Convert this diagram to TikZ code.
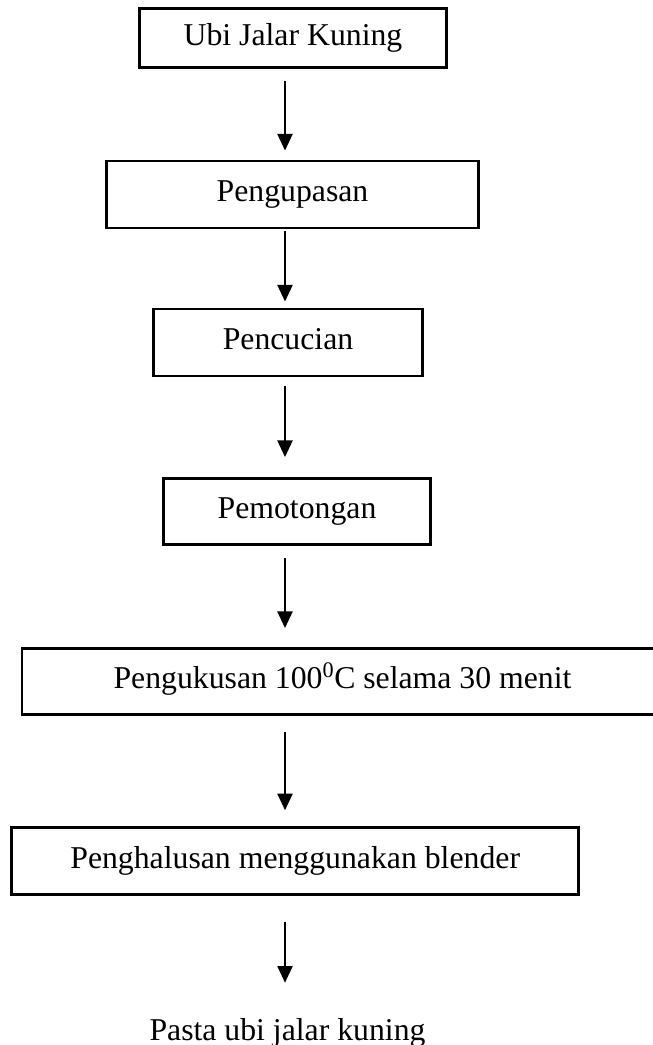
\documentclass[tikz,border=0pt]{standalone}
\usepackage{fontspec}
\setmainfont{Liberation Serif}
\usetikzlibrary{positioning,arrows.meta,calc}
\tikzset{proc/.style n args={2}{
    draw, line width=2.1pt, inner sep=0pt,
    text height=18.4pt, text depth=6pt,
    minimum width=#1*0.03cm, minimum height=#2*0.03cm
    }
}
\tikzset{flow/.style n args={2}{
    ->, line width=1.9pt,
    shorten <=#1*0.03cm, shorten >=#2*0.03cm
    }
}

\begin{document}
\begin{tikzpicture}[x=0.03cm,y=-0.03cm,>={Triangle[length=0.5cm,width=0.45cm]},font=\fontsize{27.1}{32}\selectfont]
	\clip (0,0) rectangle (653,1045);
	\coordinate (ax) at (285,0);
	\node[proc={307}{59}] (B1) at (293,38) {Ubi Jalar Kuning};
	\node[proc={372}{67}] (B2) at (292.5,194.3) {Pengupasan};
	\node[proc={269}{67}] (B3) at (288,342.3) {Pencucian};
	\node[proc={267}{66}] (B4) at (297,511.3) {Pemotongan};
	\node[proc={641}{66}] (B5) at (342.5,681.3) {Pengukusan 100\textsuperscript{0}C selama 30 menit};
	\node[proc={567}{67}] (B6) at (295.2,861) {Penghalusan menggunakan blender};
	\node[anchor=base,inner sep=0pt] (B7) at (287.5,1040) {Pasta ubi jalar kuning};
	\draw [flow={12}{9}] (B1.south -| ax) -- (B2.north -| ax);
	\draw [flow={2}{6}] (B2.south -| ax) -- (B3.north -| ax);
	\draw [flow={9}{20}] (B3.south -| ax) -- (B4.north -| ax);
	\draw [flow={12}{19}] (B4.south -| ax) -- (B5.north -| ax);
	\draw [flow={16}{16}] (B5.south -| ax) -- (B6.north -| ax);
	\draw [flow={26}{35}] (B6.south -| ax) -- (B7.north -| ax);
\end{tikzpicture}
\end{document}
